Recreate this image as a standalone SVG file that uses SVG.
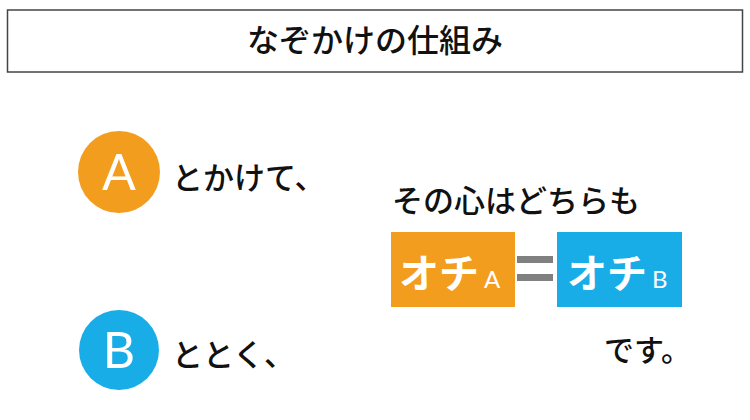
<svg xmlns="http://www.w3.org/2000/svg" width="750" height="420" viewBox="0 0 750 420">
<style>
.jp{font-family:"Noto Sans CJK JP","Noto Sans",sans-serif;fill:#111;font-weight:500;}
.lat{font-family:Lato,"Noto Sans",sans-serif;fill:#fff;}
.ochi{font-family:"Noto Sans CJK JP","Noto Sans",sans-serif;fill:#fff;font-weight:bold;font-size:40px;}
.orange{fill:#F39D1F;}
.blue{fill:#19ADE8;}
</style>
<rect width="750" height="420" fill="#fff"/>
<g id="title">
<rect x="7.5" y="10" width="735" height="62" fill="#fff" stroke="#444" stroke-width="1.5"/>
<text class="jp" x="375" y="52" font-size="32" text-anchor="middle">なぞかけの仕組み</text>
</g>
<g id="nodeA">
<circle class="orange" cx="119" cy="172" r="41"/>
<text class="lat" x="119" y="190" font-size="50" text-anchor="middle">A</text>
<text class="jp" x="172" y="189" font-size="31">とかけて、</text>
</g>
<g id="nodeB">
<circle class="blue" cx="119" cy="350" r="40"/>
<text class="lat" x="119" y="368" font-size="50" text-anchor="middle">B</text>
<text class="jp" x="172" y="366" font-size="31">ととく、</text>
</g>
<g id="answer">
<text class="jp" x="392" y="212" font-size="31">その心はどちらも</text>
</g>
<g id="ochiA">
<rect class="orange" x="391" y="232" width="124" height="75"/>
<text class="ochi" x="399" y="288">オチ</text>
<text class="lat" x="484" y="288" font-size="24">A</text>
</g>
<g id="connectors">
<rect x="517" y="256" width="36" height="7" fill="#808080"/>
<rect x="517" y="274" width="36" height="7" fill="#808080"/>
</g>
<g id="ochiB">
<rect class="blue" x="557" y="232" width="125" height="75"/>
<text class="ochi" x="567" y="288">オチ</text>
<text class="lat" x="652" y="288" font-size="24">B</text>
</g>
<g id="desu">
<text class="jp" x="604" y="361" font-size="30">です。</text>
</g>
</svg>
